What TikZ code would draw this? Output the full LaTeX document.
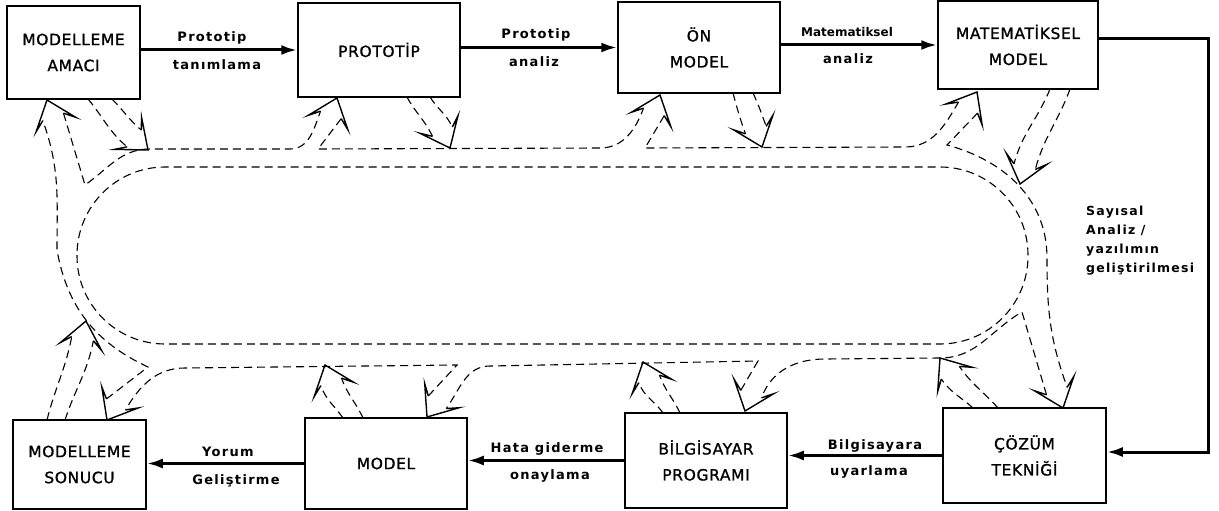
\documentclass[tikz,border=0pt]{standalone}
\usepackage{fontspec}
\setmainfont{DejaVu Sans}
\newfontfamily\boxfam[LetterSpace=4,FakeBold=1.2]{DejaVu Sans}
\newfontfamily\labfam[LetterSpace=10]{DejaVu Sans}
\usetikzlibrary{arrows.meta}
\newcommand{\hhead}[3]{%
  \draw[headline] (#2) +(#3+148.6:21.1) -- +(#3+141.1:33.4) -- +(0,0) -- +(#3+218.9:33.4) -- +(#3+211.4:21.1);
  \path (#2) +(#3+148.6:21.1) coordinate (#1-r) +(#3+211.4:21.1) coordinate (#1-l);
}
\begin{document}
\begin{tikzpicture}[x=1pt, y=1pt, yscale=-1,
  box/.style={draw, line width=1.5pt, align=center, inner sep=0pt,
              font=\boxfam\fontsize{15.5}{26}\selectfont},
  flow/.style={-{Latex[length=16pt,width=10pt]}, line width=3pt, line join=miter},
  dsh/.style={line width=1.1pt, dash pattern=on 8pt off 5pt},
  headline/.style={line width=1.4pt, solid, line join=miter},
  lab/.style={font=\labfam\bfseries\fontsize{13}{15}\selectfont, inner sep=0pt}
]
\useasboundingbox (0,0) rectangle (1219,511);

\node[box, minimum width=133pt, minimum height=93pt] (ama) at (73.5,52.5) {MODELLEME\\AMACI};
\node[box, minimum width=162pt, minimum height=94pt] (pro) at (379,50)    {PROTOTİP};
\node[box, minimum width=162pt, minimum height=91pt] (on)  at (699,47.5)  {ÖN\\MODEL};
\node[box, minimum width=160pt, minimum height=88pt] (mat) at (1018,45)   {MATEMATİKSEL\\MODEL};
\node[box, minimum width=163pt, minimum height=95pt] (coz) at (1024.5,455.5) {ÇÖZÜM\\TEKNİĞİ};
\node[box, minimum width=162pt, minimum height=95pt] (bil) at (706,460.5)  {BİLGİSAYAR\\PROGRAMI};
\node[box, minimum width=162pt, minimum height=91pt] (mod) at (386,463.5)  {MODEL};
\node[box, minimum width=133pt, minimum height=89pt] (son) at (79.5,464.5) {MODELLEME\\SONUCU};

\draw[flow] (ama.east |- pro.west) -- (pro.west);
\draw[flow] (pro.east |- on.west) -- (on.west);
\draw[flow] (on.east |- mat.west) -- (mat.west);
\coordinate (rt) at (1208,39);
\coordinate (rb) at (1208,452);
\draw[flow] (mat.east |- rt) -| (rb) -- (coz.east |- rb);
\draw[flow] (coz.west) -- (coz.west -| bil.east);
\draw[flow] (bil.west) -- (bil.west -| mod.east);
\draw[flow] (mod.west) -- (mod.west -| son.east);

\node[lab] (l1a) at (212,38) {Prototip};
\node[lab] (l1b) at (217,65) {tanımlama};
\node[lab] (l2a) at (536,35) {Prototip};
\node[lab] (l2b) at (534,62) {analiz};
\node[lab, font=\bfseries\fontsize{12}{14}\selectfont] (l3a) at (847,32) {Matematiksel};
\node[lab] (l3b) at (848,59) {analiz};
\node[lab] (l4a) at (875,446) {Bilgisayara};
\node[lab] (l4b) at (869,472) {uyarlama};
\node[lab] (l5a) at (547,449) {Hata giderme};
\node[lab] (l5b) at (550,476) {onaylama};
\node[lab] (l6a) at (228,452) {Yorum};
\node[lab] (l6b) at (236,481) {Geliştirme};
\node[lab, align=left, anchor=north west, font=\labfam\bfseries\fontsize{12.5}{19}\selectfont]
  (say) at (1086,206) {Sayısal\\Analiz /\\yazılımın\\geliştirilmesi};

\hhead{h1}{148,150}{40}
\hhead{h2}{47,100}{250}
\hhead{h3}{337,98}{290}
\hhead{h4}{450,148}{65}
\hhead{h5}{660,95}{290}
\hhead{h6}{762,147}{70}
\hhead{h7}{977,92}{300}
\hhead{h8}{1020,184}{105}
\hhead{h9}{1063,408}{70}
\hhead{h10}{940,358}{235}
\hhead{h11}{745,411}{110}
\hhead{h12}{643,362}{250}
\hhead{h13}{427,417}{125}
\hhead{h14}{325,365}{250}
\hhead{h15}{107,420}{120}
\hhead{h16}{86,321}{281}

\draw[dsh, rounded corners=88pt] (77,167) rectangle (1028,344);

\draw[dsh] (h2-r) -- (85,185) to[out=-35,in=180] (150,149) -- (290,149) to[out=0,in=110] (h3-l);
\draw[dsh] (h3-r) -- (318,149) -- (600,148) to[out=0,in=110] (h5-l);
\draw[dsh] (h5-r) -- (645,148) -- (905,147) to[out=0,in=120] (h7-l);
\draw[dsh] (h7-r) -- (947,145) to[out=15,in=-90] (1047,258) to[out=90,in=-110] (h9-l);
\draw[dsh] (h9-r) -- (1022,312) to[out=150,in=0] (940,358) -- (825,359) to[out=180,in=-70] (h11-l);
\draw[dsh] (h11-r) -- (758,361) -- (490,366) to[out=180,in=-55] (h13-l);
\draw[dsh] (h13-r) -- (457,365) -- (185,368) to[out=180,in=-60] (h15-l);
\draw[dsh] (h15-r) -- (148,367) to[out=-155,in=80] (57,250) to[out=-90,in=70] (h2-l);

\draw[dsh] (88,99) to[out=50,in=220] (h1-r) (112,99) to[out=45,in=220] (h1-l);
\draw[dsh] (407,97) to[out=62,in=245] (h4-r) (430,97) to[out=58,in=245] (h4-l);
\draw[dsh] (733,93) to[out=75,in=250] (h6-r) (753,93) to[out=65,in=250] (h6-l);
\draw[dsh] (1050,89) to[out=112,in=285] (h8-r) (1070,89) to[out=110,in=285] (h8-l);
\draw[dsh] (998,408) to[out=228,in=55] (h10-r) (973,408) to[out=222,in=55] (h10-l);
\draw[dsh] (680,413) to[out=245,in=70] (h12-r) (663,413) to[out=235,in=70] (h12-l);
\draw[dsh] (363,418) to[out=245,in=70] (h14-r) (343,418) to[out=235,in=70] (h14-l);
\draw[dsh] (65,420) to[out=-72,in=101] (h16-r) (47,420) to[out=-76,in=101] (h16-l);
\end{tikzpicture}
\end{document}
